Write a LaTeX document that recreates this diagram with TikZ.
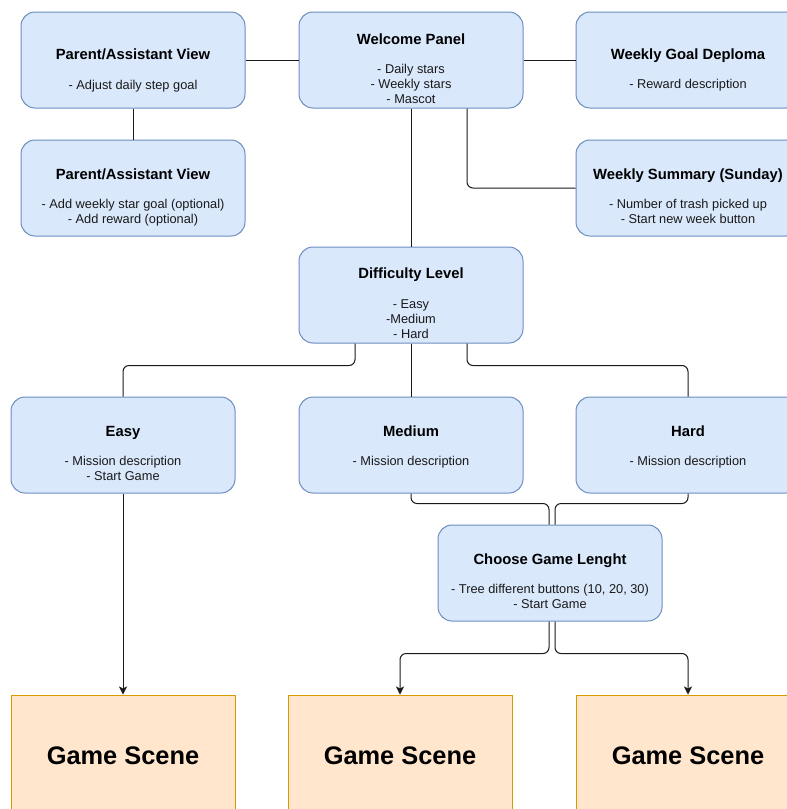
\documentclass[tikz,border=0pt]{standalone}
\usepackage{fontspec}
\setmainfont{Liberation Sans}
\usetikzlibrary{arrows.meta}

\definecolor{boxfill}{HTML}{DAE8FC}
\definecolor{boxline}{HTML}{6C8EBF}
\definecolor{scenefill}{HTML}{FFE6CC}
\definecolor{sceneline}{HTML}{D79B00}
\definecolor{wire}{HTML}{1A1A1A}

\tikzset{
  panel/.style={draw=boxline, fill=boxfill, line width=1pt, rounded corners=14pt,
    minimum width=224pt, minimum height=96pt, inner sep=0pt},
  scene/.style={draw=sceneline, fill=scenefill, line width=1pt,
    minimum width=224pt, minimum height=120pt, inner sep=0pt},
  ttl/.style={anchor=base, inner sep=0pt, font=\fontsize{14.8}{17}\selectfont\bfseries},
  bd/.style={anchor=base, inner sep=0pt, font=\fontsize{12.8}{15}\selectfont, text=black!90},
  big/.style={anchor=base, inner sep=0pt, font=\fontsize{25.4}{30}\selectfont\bfseries},
  conn/.style={draw=wire, line width=1pt, rounded corners=6pt},
  arr/.style={conn, -{Stealth[length=8pt, width=8pt, inset=2pt]}},
}

\begin{document}
\begin{tikzpicture}[x=1pt, y=-1pt]
  \useasboundingbox (0,0) rectangle (787,809);
  \clip (0,0) rectangle (787,809);

  % panels (centres)
  \node[panel] (pa1) at (133,60)  {};
  \node[panel] (wel) at (411,60)  {};
  \node[panel] (wgd) at (688,60)  {};
  \node[panel] (pa2) at (133,188) {};
  \node[panel] (ws)  at (688,188) {};
  \node[panel] (dif) at (411,295) {};
  \node[panel] (easy) at (123,445) {};
  \node[panel] (med) at (411,445) {};
  \node[panel] (hard) at (688,445) {};
  \node[panel] (cgl) at (550,573) {};
  \node[scene] (gs1) at (123,755) {};
  \node[scene] (gs2) at (400,755) {};
  \node[scene] (gs3) at (688,755) {};

  % panel texts
  \node[ttl] (pa1t) at (133,59.3) {Parent/Assistant View};
  \node[bd]  (pa1a) at (133,89.6) {- Adjust daily step goal};

  \node[ttl] (welt) at (411,44.3) {Welcome Panel};
  \node[bd]  (wela) at (411,73.6) {- Daily stars};
  \node[bd]  (welb) at (411,88.6) {- Weekly stars};
  \node[bd]  (welc) at (411,103.6) {- Mascot};

  \node[ttl] (wgdt) at (688,59.3) {Weekly Goal Deploma};
  \node[bd]  (wgda) at (688,88.6) {- Reward description};

  \node[ttl] (pa2t) at (133,179.3) {Parent/Assistant View};
  \node[bd]  (pa2a) at (133,208.6) {- Add weekly star goal (optional)};
  \node[bd]  (pa2b) at (133,223.6) {- Add reward (optional)};

  \node[ttl] (wst) at (688,179.8) {Weekly Summary (Sunday)};
  \node[bd]  (wsa) at (688,208.6) {- Number of trash picked up};
  \node[bd]  (wsb) at (688,223.6) {- Start new week button};

  \node[ttl] (dift) at (411,278.6) {Difficulty Level};
  \node[bd]  (difa) at (411,308.9) {- Easy};
  \node[bd]  (difb) at (411,323.9) {-Medium};
  \node[bd]  (difc) at (411,338.9) {- Hard};

  \node[ttl] (easyt) at (123,436.3) {Easy};
  \node[bd]  (easya) at (123,465.6) {- Mission description};
  \node[bd]  (easyb) at (123,480.6) {- Start Game};

  \node[ttl] (medt) at (411,436.3) {Medium};
  \node[bd]  (meda) at (411,465.6) {- Mission description};

  \node[ttl] (hardt) at (688,436.3) {Hard};
  \node[bd]  (harda) at (688,465.6) {- Mission description};

  \node[ttl] (cglt) at (550,564.6) {Choose Game Lenght};
  \node[bd]  (cgla) at (550,593.9) {- Tree different buttons (10, 20, 30)};
  \node[bd]  (cglb) at (550,608.9) {- Start Game};

  \node[big] (gs1t) at (123,764) {Game Scene};
  \node[big] (gs2t) at (400,764) {Game Scene};
  \node[big] (gs3t) at (688,764) {Game Scene};

  % connectors
  \draw[conn] (pa1.east) -- (wel.west);
  \draw[conn] (wel.east) -- (wgd.west);
  \draw[conn] (pa1.south) -- (pa2.north);
  \draw[conn] (wel.south) -- (dif.north);
  \draw[conn] ([xshift=56pt]wel.south) |- (ws.west);

  \draw[conn] ([xshift=-56pt]dif.south) -- ++(0,22) -| (easy.north);
  \draw[conn] (dif.south) -- (med.north);
  \draw[conn] ([xshift=56pt]dif.south) -- ++(0,22) -| (hard.north);

  \draw[conn] (med.south) -- ++(0,10) -| ([xshift=-1pt]cgl.north);
  \draw[conn] (hard.south) -- ++(0,10) -| ([xshift=5pt]cgl.north);

  \draw[arr] ([xshift=-1pt]cgl.south) -- ++(0,32) -| (gs2.north);
  \draw[arr] ([xshift=5pt]cgl.south) -- ++(0,32) -| (gs3.north);
  \draw[arr] (easy.south) -- (gs1.north);
\end{tikzpicture}
\end{document}
